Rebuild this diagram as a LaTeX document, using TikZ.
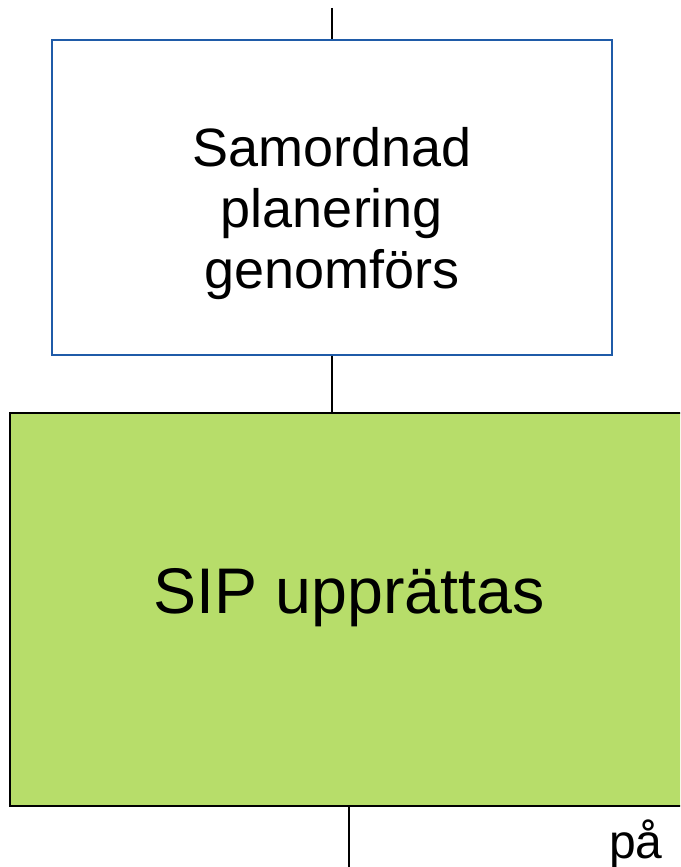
\documentclass[tikz,border=0pt]{standalone}
\usepackage{fontspec}
\setmainfont{Liberation Sans}
\definecolor{boxblue}{RGB}{31,91,168}
\definecolor{sipgreen}{RGB}{183,221,106}

\begin{document}
\begin{tikzpicture}
  [x=1pt,y=-1pt,every node/.style={inner sep=0pt},
   planbox/.style={draw=boxblue,line width=1.5pt,fill=white,minimum width=560pt,
     minimum height=315pt},
   sipbox/.style={draw=black,line width=1.5pt,fill=sipgreen,minimum width=678pt,
     minimum height=393pt}]
  \useasboundingbox (0,0) rectangle (680,867);
  \clip (0,0) rectangle (680,867);
  \coordinate (ctop) at (332,8);
  \coordinate (cbot) at (349,867);
  \node[planbox,label={[align=center,yshift=-16.5pt,font=\fontsize{54}{61}\selectfont]center:Samordnad\\planering\\genomförs}] (nplan) at (332,197.5) {};
  \node[sipbox,label={[yshift=11.5pt,font=\fontsize{64.5}{78}\selectfont]center:SIP upprättas}] (nsip) at (349,609.5) {};
  \node[anchor=base west,font=\fontsize{48}{52}\selectfont] (npa) at (609,858) {på};
  \draw[line width=1.5pt] (ctop) -- (nplan.north);
  \draw[line width=1.5pt] (nplan.south) -- (nplan.south |- nsip.north);
  \draw[line width=1.5pt] (nsip.south) -- (cbot);
\end{tikzpicture}
\end{document}
